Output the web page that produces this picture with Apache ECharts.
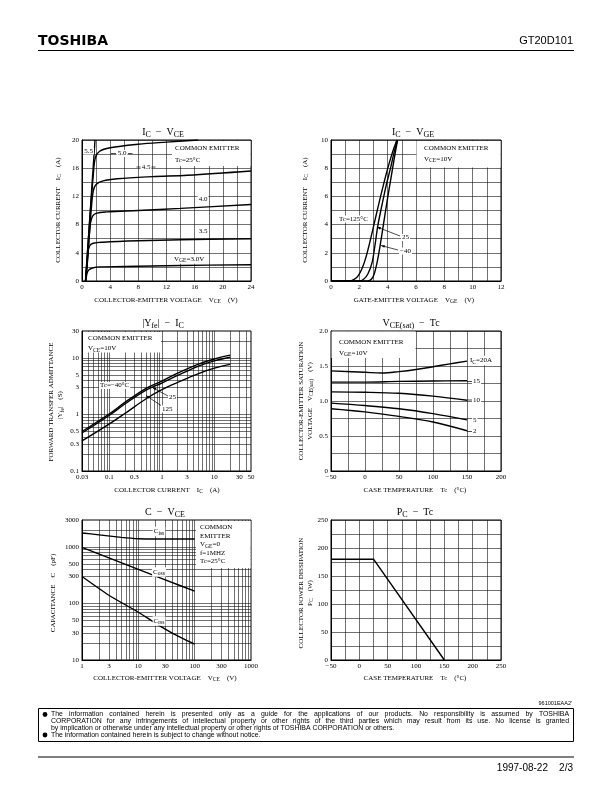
<!DOCTYPE html>
<html>
<head>
<meta charset="utf-8">
<style>
  html, body { margin: 0; padding: 0; background: #fff; }
  #chart { width: 612px; height: 792px; }
</style>
<script src="https://cdn.jsdelivr.net/npm/echarts@6/dist/echarts.min.js"></script>
</head>
<body>
<div id="chart"></div>
<script>
// ---- IC - VCE, [VCE (V), IC (A)] per gate voltage ----
const icVce30 = [[0.5, 0], [0.6, 0.5], [0.75, 1.2], [1, 1.6], [1.5, 1.85], [2.5, 2.0], [6, 2.05], [14, 2.2], [24, 2.3]]
const icVce35 = [[0.5, 0], [0.7, 2], [0.85, 4], [1.1, 5.0], [1.6, 5.35], [3, 5.5], [8, 5.7], [14, 5.85], [24, 6.0]]
const icVce40 = [[0.5, 0], [0.8, 3], [1.0, 6], [1.2, 8.2], [1.5, 9.2], [2, 9.6], [3.5, 9.8], [8, 10.0], [14, 10.3], [24, 10.85]]
const icVce45 = [[0.5, 0], [1.0, 6], [1.3, 10], [1.6, 12.8], [2, 13.7], [3, 14.2], [5, 14.5], [10, 14.8], [15, 15.0], [24, 15.6]]
const icVce50 = [[0.5, 0], [1.2, 10], [1.6, 15], [1.9, 17.5], [2.5, 18.4], [4, 18.9], [8, 19.4], [12, 19.7], [16.5, 20]]
const icVce55 = [[0.5, 0], [1.85, 20]]

// ---- IC - VGE, [VGE (V), IC (A)] per case temperature ----
const icVge125 = [[0, 0], [1.3, 0], [1.6, 0.1], [1.9, 0.35], [2.2, 0.9], [2.5, 1.8], [2.8, 3.0], [3.1, 4.3], [3.5, 6.0], [3.9, 7.6], [4.3, 9.0], [4.65, 10]]
const icVge25 = [[0, 0], [2.0, 0], [2.3, 0.12], [2.6, 0.5], [2.9, 1.3], [3.1, 2.5], [3.3, 3.9], [3.6, 5.4], [3.9, 6.8], [4.2, 8.0], [4.45, 9.1], [4.7, 10]]
const icVgeM40 = [[0, 0], [2.6, 0], [2.85, 0.12], [3.05, 0.5], [3.25, 1.3], [3.45, 2.4], [3.7, 4.0], [3.95, 5.6], [4.2, 7.1], [4.45, 8.6], [4.7, 10]]

// ---- |Yfe| - IC, [IC (A), |Yfe| (S)] ----
const yfeM40 = [[0.03, 0.5], [0.1, 1.03], [0.2, 1.65], [0.5, 2.9], [1, 3.9], [2, 5.4], [5, 7.8], [10, 9.6], [20, 11.2]]
const yfe25 = [[0.03, 0.47], [0.1, 0.97], [0.2, 1.55], [0.5, 2.7], [1, 3.6], [2, 4.9], [5, 7.2], [10, 8.9], [20, 10.3]]
const yfe125 = [[0.03, 0.34], [0.1, 0.68], [0.2, 1.05], [0.5, 1.9], [1, 2.75], [2, 3.7], [5, 5.3], [10, 6.6], [20, 7.7]]
const yfeXTicks = [0.03, 0.1, 0.3, 1, 3, 10, 30, 50]
const yfeYTicks = [0.1, 0.3, 0.5, 1, 3, 5, 10, 30]

// ---- VCE(sat) - Tc, [Tc (°C), VCE(sat) (V)] per collector current ----
const vsat20 = [[-50, 1.43], [0, 1.41], [25, 1.40], [50, 1.42], [75, 1.45], [100, 1.49], [125, 1.53], [150, 1.57]]
const vsat15 = [[-50, 1.27], [0, 1.27], [50, 1.28], [100, 1.285], [150, 1.29]]
const vsat10 = [[-50, 1.13], [0, 1.125], [50, 1.11], [100, 1.07], [150, 1.01]]
const vsat5 = [[-50, 0.97], [0, 0.935], [50, 0.89], [100, 0.82], [150, 0.73]]
const vsat2 = [[-50, 0.89], [0, 0.845], [50, 0.78], [100, 0.70], [150, 0.575]]

// ---- C - VCE, [VCE (V), C (pF)] ----
const ciss = [[1, 1770], [2, 1640], [5, 1480], [10, 1400], [20, 1380], [50, 1380], [100, 1380]]
const coss = [[1, 980], [3, 640], [10, 400], [30, 262], [100, 165]]
const crss = [[1, 300], [3, 140], [10, 70], [20, 45], [40, 30], [100, 19]]
const capXTicks = [1, 3, 10, 30, 100, 300, 1000]
const capYTicks = [10, 30, 50, 100, 300, 500, 1000, 3000]

// ---- PC - Tc, [Tc (°C), PC (W)] ----
const pcTc = [[-50, 180], [25, 180], [150, 0]]

const SERIF = '"Liberation Serif", "DejaVu Serif", serif'
const SANS = '"Liberation Sans", "DejaVu Sans", sans-serif'
const FS = 7

const plain = v => (v < 0 ? '−' + (-v) : String(v))
const oneDec = v => (v === 0 ? '0' : v.toFixed(1))
const isMult = (v, m) => Math.abs(v / m - Math.round(v / m)) < 1e-6

const grids = [
  { left: 82, top: 140, width: 169, height: 141 },
  { left: 331, top: 140, width: 170, height: 141 },
  { left: 82, top: 331, width: 169, height: 140 },
  { left: 331, top: 331, width: 170, height: 140 },
  { left: 82, top: 520, width: 169, height: 140 },
  { left: 331, top: 520, width: 170, height: 140 }
].map(g => ({ ...g, show: true, borderColor: '#000', borderWidth: 1, backgroundColor: 'transparent' }))

const labelStyle = { color: '#000', fontFamily: SERIF, fontSize: FS, margin: 3, showMinLabel: true, showMaxLabel: true }
const gridLine = { color: '#111', width: 0.6 }

const valAxis = (gi, min, max, step, every, fmt) => ({
  gridIndex: gi,
  type: 'value',
  min,
  max,
  interval: step,
  axisLine: { show: true, onZero: false, lineStyle: { color: '#000', width: 1 } },
  axisTick: { show: false },
  splitLine: { show: true, lineStyle: gridLine },
  axisLabel: { ...labelStyle, formatter: v => (isMult(v, every) ? fmt(v) : '') }
})

const logAxis = (gi, min, max, ticks) => ({
  gridIndex: gi,
  type: 'log',
  logBase: 10,
  min,
  max,
  axisLine: { show: true, onZero: false, lineStyle: { color: '#000', width: 1 } },
  axisTick: { show: false },
  splitLine: { show: false },
  axisLabel: { ...labelStyle, customValues: ticks, formatter: v => String(+(+v).toPrecision(3)) }
})

// 1..9 per decade, strictly inside the range
const decadeLines = (min, max) => {
  const out = []
  for (let e = -3; e <= 4; e++) {
    for (let k = 1; k <= 9; k++) {
      const v = +(k * Math.pow(10, e)).toPrecision(3)
      if (v > min * 1.0001 && v < max * 0.9999) out.push(v)
    }
  }
  return out
}

// grid lines for the log charts
const logGrid = (gi, xs, ys) => ({
  type: 'line',
  xAxisIndex: gi,
  yAxisIndex: gi,
  data: [],
  silent: true,
  z: 0,
  markLine: {
    z: 0,
    silent: true,
    animation: false,
    symbol: ['none', 'none'],
    label: { show: false },
    emphasis: { disabled: true },
    lineStyle: { ...gridLine, type: 'solid' },
    data: [...xs.map(v => ({ xAxis: v })), ...ys.map(v => ({ yAxis: v }))]
  }
})

const curve = (gi, data, smooth = 0.35) => ({
  type: 'line',
  xAxisIndex: gi,
  yAxisIndex: gi,
  data,
  symbol: 'none',
  smooth,
  silent: true,
  z: 3,
  lineStyle: { color: '#000', width: 1.4 }
})

// text helpers
const rich = size => ({
  s: { fontFamily: SERIF, fontSize: size * 0.8, padding: [size * 0.5, 0, 0, 0] }
})
const T = (x, y, text, o = {}) => {
  const size = o.size || FS
  return {
    type: 'text',
    x,
    y,
    z: 6,
    rotation: o.rot || 0,
    style: {
      text,
      fill: '#000',
      fontFamily: o.family || SERIF,
      fontSize: size,
      fontWeight: o.weight || 'normal',
      align: o.align || 'left',
      textAlign: o.align || 'left',
      verticalAlign: 'middle',
      textVerticalAlign: 'middle',
      backgroundColor: o.bg,
      padding: o.bg ? [0, 1] : 0,
      rich: rich(size)
    }
  }
}
const L = (x1, y1, x2, y2, w = 0.7) => ({
  type: 'line', z: 6, shape: { x1, y1, x2, y2 }, style: { stroke: '#000', lineWidth: w }
})
const arrow = (x1, y1, x2, y2) => {
  // head at (x1, y1)
  const a = Math.atan2(y2 - y1, x2 - x1), h = 4, s = 0.35
  return [
    L(x1, y1, x2, y2, 0.7),
    { type: 'polygon', z: 6, shape: { points: [[x1, y1], [x1 + h * Math.cos(a + s), y1 + h * Math.sin(a + s)], [x1 + h * Math.cos(a - s), y1 + h * Math.sin(a - s)]] }, style: { fill: '#000' } }
  ]
}
const R = (x, y, width, height) => ({ type: 'rect', z: 1, shape: { x, y, width, height }, style: { fill: '#fff' } })

const justify = (line, x0, x1, y, size) => {
  const ctx = document.createElement('canvas').getContext('2d')
  ctx.font = size + 'px "Liberation Sans"'
  const words = line.split(' ')
  const widths = words.map(w => ctx.measureText(w).width)
  const gap = (x1 - x0 - widths.reduce((a, b) => a + b, 0)) / (words.length - 1)
  let x = x0
  return words.map((w, i) => {
    const el = T(x, y, w, { size, family: SANS })
    x += widths[i] + gap
    return el
  })
}

const V = Math.PI / 2
const FT = 6.9

const graphics = [
  // header / footer
  T(38, 41, 'TOSHIBA', { size: 14, family: '"DejaVu Sans", sans-serif', weight: 'bold' }),
  T(573, 41, 'GT20D101', { size: 11, family: SANS, align: 'right' }),
  L(38, 50.5, 574, 50.5, 1.2),
  T(572, 703.5, "961001EAA2'", { size: 5.5, family: SANS, align: 'right' }),
  { type: 'rect', z: 6, shape: { x: 38.5, y: 708.5, width: 535, height: 33 }, style: { fill: 'none', stroke: '#000', lineWidth: 1 } },
  { type: 'circle', z: 6, shape: { cx: 45, cy: 714.5, r: 2.4 }, style: { fill: '#000' } },
  { type: 'circle', z: 6, shape: { cx: 45, cy: 735, r: 2.4 }, style: { fill: '#000' } },
  ...justify('The information contained herein is presented only as a guide for the applications of our products. No responsibility is assumed by TOSHIBA', 51, 569, 714.5, FT),
  ...justify('CORPORATION for any infringements of intellectual property or other rights of the third parties which may result from its use. No license is granted', 51, 569, 721.3, FT),
  T(51, 728, 'by implication or otherwise under any intellectual property or other rights of TOSHIBA CORPORATION or others.', { size: FT, family: SANS }),
  T(51, 735, 'The information contained herein is subject to change without notice.', { size: FT, family: SANS }),
  L(38, 757, 574, 757, 1.2),
  T(573, 768, '1997-08-22    2/3', { size: 10, family: SANS, align: 'right' }),

  // white boxes behind notes
  R(172, 141, 78.5, 25),
  R(416.5, 141, 84, 26.5),
  R(83, 332, 78, 20.5),
  R(331.5, 331.5, 84, 26.5),
  R(196, 521, 54.5, 47),

  // titles
  T(163, 132, 'I{s|C}  −  V{s|CE}', { size: 10, align: 'center' }),
  T(413, 132, 'I{s|C}  −  V{s|GE}', { size: 10, align: 'center' }),
  T(163, 323, '|Y{s|fe}|  −  I{s|C}', { size: 10, align: 'center' }),
  T(411, 323, 'V{s|CE(sat)}  −  Tc', { size: 10, align: 'center' }),
  T(165, 512, 'C  −  V{s|CE}', { size: 10, align: 'center' }),
  T(415, 512, 'P{s|C}  −  Tc', { size: 10, align: 'center' }),

  // axis names
  T(166, 300, 'COLLECTOR-EMITTER VOLTAGE    V{s|CE}    (V)', { align: 'center' }),
  T(58, 210, 'COLLECTOR CURRENT    I{s|C}    (A)', { align: 'center', rot: V }),
  T(414, 300, 'GATE-EMITTER VOLTAGE    V{s|GE}    (V)', { align: 'center' }),
  T(305, 210, 'COLLECTOR CURRENT    I{s|C}    (A)', { align: 'center', rot: V }),
  T(167, 490, 'COLLECTOR CURRENT    I{s|C}    (A)', { align: 'center' }),
  T(51.5, 402, 'FORWARD TRANSFER ADMITTANCE', { align: 'center', rot: V }),
  T(60.5, 405, '|Y{s|fe}|    (S)', { align: 'center', rot: V }),
  T(415, 490, 'CASE TEMPERATURE    Tc    (°C)', { align: 'center' }),
  T(301, 401, 'COLLECTOR-EMITTER SATURATION', { align: 'center', rot: V }),
  T(310, 401, 'VOLTAGE    V{s|CE(sat)}    (V)', { align: 'center', rot: V }),
  T(165, 678, 'COLLECTOR-EMITTER VOLTAGE    V{s|CE}    (V)', { align: 'center' }),
  T(53.5, 593, 'CAPACITANCE    C    (pF)', { align: 'center', rot: V }),
  T(415, 678, 'CASE TEMPERATURE    Tc    (°C)', { align: 'center' }),
  T(301, 593, 'COLLECTOR POWER DISSIPATION', { align: 'center', rot: V }),
  T(310, 593, 'P{s|C}    (W)', { align: 'center', rot: V }),

  // chart 1 notes
  T(175, 148, 'COMMON EMITTER'),
  T(175, 160, 'Tc=25°C'),
  T(88.7, 151, '5.5', { align: 'center', bg: '#fff' }),
  T(122, 153.5, '5.0', { align: 'center', bg: '#fff' }),
  L(111, 153.5, 116, 153.5), L(128, 153.5, 132.5, 153.5),
  T(146, 167, '4.5', { align: 'center', bg: '#fff' }),
  L(136.5, 167, 140.5, 167), L(151.5, 167, 155.5, 167),
  T(203, 199, '4.0', { align: 'center', bg: '#fff' }),
  T(203, 231, '3.5', { align: 'center', bg: '#fff' }),
  T(173, 259, 'V{s|GE}=3.0V', { bg: '#fff' }),

  // chart 2 notes
  T(424, 148, 'COMMON EMITTER'),
  T(424, 159, 'V{s|CE}=10V'),
  T(338, 219, 'Tc=125°C', { bg: '#fff' }),
  ...arrow(377, 227, 400, 236),
  T(401, 237.5, '25', { bg: '#fff' }),
  ...arrow(381, 245.5, 398, 250),
  T(399, 251, '−40', { bg: '#fff' }),

  // chart 3 notes
  T(88, 338.5, 'COMMON EMITTER'),
  T(88, 348.5, 'V{s|CE}=10V'),
  T(99, 385.5, 'Tc=−40°C', { bg: '#fff' }),
  ...arrow(152.5, 387.5, 168, 396),
  T(168, 397.5, '25', { bg: '#fff' }),
  ...arrow(146, 395.5, 161, 405.5),
  T(161, 409, '125', { bg: '#fff' }),

  // chart 4 notes
  T(339, 342, 'COMMON EMITTER'),
  T(339, 353, 'V{s|GE}=10V'),
  T(469, 360.5, 'I{s|C}=20A', { bg: '#fff' }),
  L(467, 381.5, 472, 381.5), T(472, 381.5, '15', { bg: '#fff' }),
  L(467, 400, 472, 400), T(472, 400, '10', { bg: '#fff' }),
  T(472, 420, '5', { bg: '#fff' }),
  L(467, 431.5, 472, 431.5), T(472, 431.5, '2', { bg: '#fff' }),

  // chart 5 notes
  T(200, 527.5, 'COMMON'),
  T(200, 536, 'EMITTER'),
  T(200, 544.5, 'V{s|GE}=0'),
  T(200, 553, 'f=1MHZ'),
  T(200, 561.5, 'Tc=25°C'),
  T(159, 531.5, 'C{s|iss}', { align: 'center', bg: '#fff' }),
  T(159, 572, 'C{s|oss}', { align: 'center', bg: '#fff' }),
  T(159, 621, 'C{s|rss}', { align: 'center', bg: '#fff' })
]

const chart = echarts.init(document.getElementById('chart'))

const option = {
  animation: false,
  backgroundColor: '#fff',
  grid: grids,
  xAxis: [
    valAxis(0, 0, 24, 2, 4, plain),
    valAxis(1, 0, 12, 1, 2, plain),
    logAxis(2, 0.03, 50, yfeXTicks),
    valAxis(3, -50, 200, 25, 50, plain),
    logAxis(4, 1, 1000, capXTicks),
    valAxis(5, -50, 250, 25, 50, plain)
  ],
  yAxis: [
    valAxis(0, 0, 20, 2, 4, plain),
    valAxis(1, 0, 10, 1, 2, plain),
    logAxis(2, 0.1, 30, yfeYTicks),
    valAxis(3, 0, 2, 0.25, 0.5, oneDec),
    logAxis(4, 10, 3000, capYTicks),
    valAxis(5, 0, 250, 25, 50, plain)
  ],
  series: [
    curve(0, icVce30), curve(0, icVce35), curve(0, icVce40),
    curve(0, icVce45), curve(0, icVce50), curve(0, icVce55, false),
    curve(1, icVge125, 0.3), curve(1, icVge25, 0.3), curve(1, icVgeM40, 0.3),
    logGrid(2, decadeLines(0.03, 50), decadeLines(0.1, 30)),
    curve(2, yfeM40), curve(2, yfe25), curve(2, yfe125),
    curve(3, vsat20), curve(3, vsat15), curve(3, vsat10), curve(3, vsat5), curve(3, vsat2),
    logGrid(4, decadeLines(1, 1000), decadeLines(10, 3000)),
    curve(4, ciss, 0.2), curve(4, coss, 0.2), curve(4, crss, 0.2),
    curve(5, pcTc, false)
  ],
  graphic: { elements: graphics }
}

chart.setOption(option)
</script>
</body>
</html>
